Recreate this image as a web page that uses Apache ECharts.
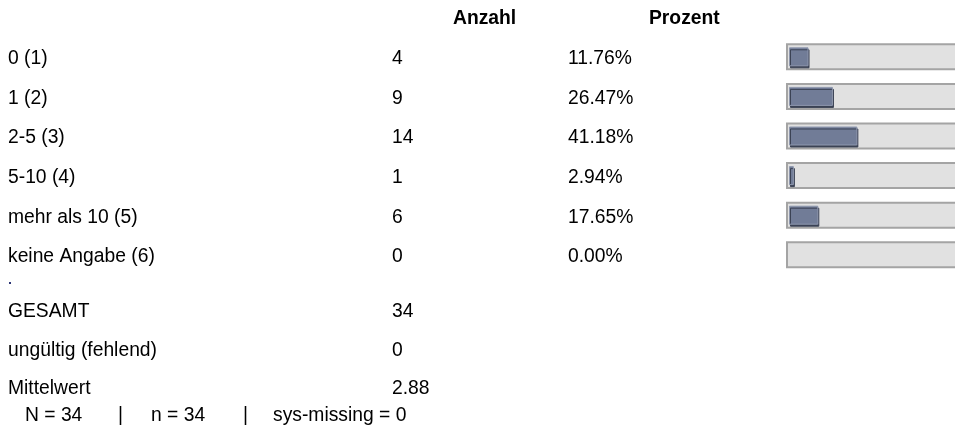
<!DOCTYPE html>
<html><head><meta charset="utf-8">
<script src="https://cdn.jsdelivr.net/npm/echarts@6/dist/echarts.min.js"></script>
<style>html,body{margin:0;padding:0;background:#fff}#c{width:955px;height:429px}</style>
</head><body><div id="c"></div><script>
const categories = ['0 (1)', '1 (2)', '2-5 (3)', '5-10 (4)', 'mehr als 10 (5)', 'keine Angabe (6)'];
const counts = [4, 9, 14, 1, 6, 0];
const percents = [11.76, 26.47, 41.18, 2.94, 17.65, 0.00];
const summaryLabels = ['GESAMT', 'ungültig (fehlend)', 'Mittelwert'];
const summaryValues = ['34', '0', '2.88'];
const columnHeaders = ['Anzahl', 'Prozent'];
const footerItems = ['N = 34', 'n = 34', 'sys-missing = 0'];

const FONT = 'Liberation Sans, Arial, sans-serif';
const FS = 19.3;
const chart = echarts.init(document.getElementById('c'), null, {renderer: 'canvas'});

function labelAxis(gridIndex, data, margin, fmt) {
  return {
    type: 'category', gridIndex, data, inverse: true, position: 'left',
    axisLine: {show: false}, axisTick: {show: false}, splitLine: {show: false},
    axisLabel: {show: true, margin, align: 'left', interval: 0, color: '#000',
      fontFamily: FONT, fontSize: FS, formatter: fmt || (v => v)}
  };
}
const hiddenX = (gridIndex) => ({type: 'value', gridIndex, min: 0, max: 100, show: false});
const txt = (bold) => ({fontFamily: FONT, fontSize: FS, fontWeight: bold ? 'bold' : 'normal', color: '#000'});

const option = {
  animation: false,
  backgroundColor: '#fff',
  title: [
    {text: columnHeaders[0], left: 453, top: 9, padding: 0, textStyle: txt(true)},
    {text: columnHeaders[1], left: 649, top: 9, padding: 0, textStyle: txt(true)},
    {text: footerItems[0], left: 25, top: 406, padding: 0, textStyle: txt(false)},
    {text: '|', left: 118, top: 406, padding: 0, textStyle: txt(false)},
    {text: footerItems[1], left: 151, top: 406, padding: 0, textStyle: txt(false)},
    {text: '|', left: 243, top: 406, padding: 0, textStyle: txt(false)},
    {text: footerItems[2], left: 273, top: 406, padding: 0, textStyle: txt(false)}
  ],
  grid: [
    {left: 786, width: 180, top: 37, height: 237.6, outerBoundsMode: 'none'},
    {left: 789, width: 166, top: 37, height: 237.6, outerBoundsMode: 'none'},
    {left: 786, width: 100, top: 39, height: 237.6, outerBoundsMode: 'none'},
    {left: 786, width: 100, top: 292.5, height: 115.5, outerBoundsMode: 'none'}
  ],
  xAxis: [hiddenX(0), hiddenX(1), hiddenX(2), hiddenX(3)],
  yAxis: [
    {type: 'category', gridIndex: 0, data: categories, inverse: true, show: false},
    {type: 'category', gridIndex: 1, data: categories, inverse: true, show: false},
    labelAxis(2, categories, 778),
    labelAxis(2, categories, 394, (v, i) => String(counts[i])),
    labelAxis(2, categories, 218, (v, i) => percents[i].toFixed(2) + '%'),
    labelAxis(3, summaryLabels, 778),
    labelAxis(3, summaryLabels, 394, (v, i) => summaryValues[i])
  ],
  graphic: [
    {type: 'rect', shape: {x: 9, y: 282, width: 2, height: 2}, style: {fill: '#2c3575'}}
  ],
  series: [
    {
      type: 'bar', xAxisIndex: 0, yAxisIndex: 0, barWidth: 27, silent: true,
      data: categories.map(() => 100),
      itemStyle: {color: '#e1e1e1', borderColor: '#a4a4a4', borderWidth: 2}
    },
    {
      type: 'bar', xAxisIndex: 1, yAxisIndex: 1, barWidth: 19, silent: true,
      data: percents.map(v => v > 0 ? v : {value: v, itemStyle: {opacity: 0}}),
      itemStyle: {color: '#717c97', borderColor: '#8f98ae', borderWidth: 1,
        shadowColor: '#3b4254', shadowOffsetX: 1, shadowOffsetY: 2, shadowBlur: 0}
    }
  ]
};
chart.setOption(option);
</script></body></html>
